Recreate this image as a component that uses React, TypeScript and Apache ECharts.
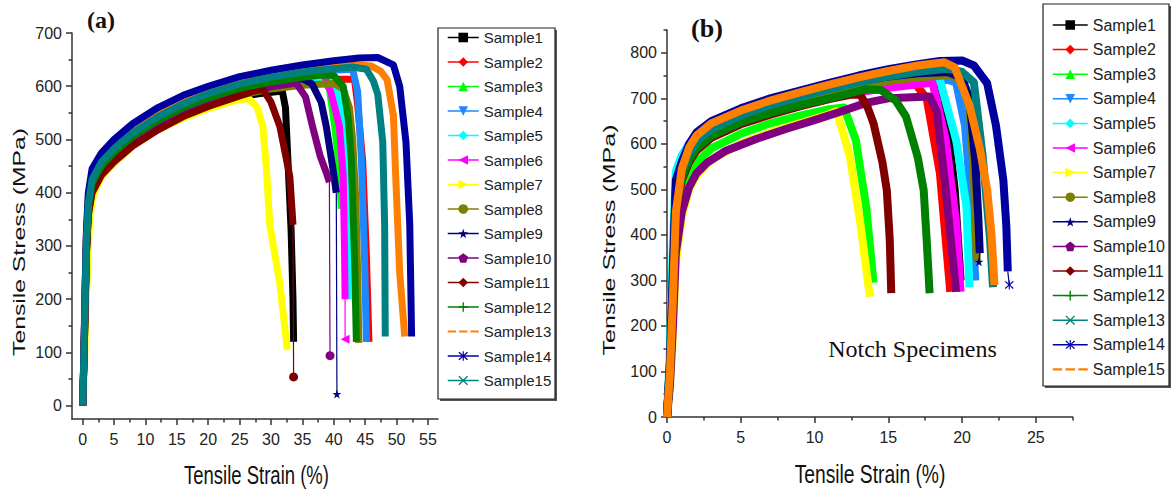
import React, { useEffect, useRef } from "react";
import * as echarts from "echarts";

type P = [number, number];

// ---------- Chart (a) data: [strain %, stress MPa] ----------
const A_S1: P[] = [[0,0],[0.2,80],[0.4,190],[0.6,290],[0.9,360],[1.5,402],[3,435],[5,460],[8,490],[12,520],[16,545],[20,563],[25,580],[28,586],[31.8,591],[32.3,560],[32.7,460],[33.2,330],[33.5,200],[33.6,120]];
const A_S2: P[] = [[0,0],[0.2,85],[0.4,195],[0.6,295],[0.9,370],[1.5,412],[3,445],[5,470],[8,500],[12,530],[16,554],[20,572],[25,590],[30,602],[35,609],[40,613],[43.3,613],[43.8,565],[44.6,460],[45.2,280],[45.6,120]];
const A_S3: P[] = [[0,0],[0.2,80],[0.4,190],[0.6,290],[0.9,365],[1.5,410],[3,443],[5,468],[8,498],[12,528],[16,552],[20,571],[25,589],[30,601],[35,610],[38,614],[39.3,595],[40.2,520],[40.8,450],[41.2,370]];
const A_S4: P[] = [[0,0],[0.2,95],[0.4,210],[0.6,310],[0.9,378],[1.5,422],[3,455],[5,480],[8,510],[12,540],[16,565],[20,584],[25,602],[30,615],[35,624],[40,630],[43,632],[43.8,590],[44.4,462],[44.9,275],[45.2,120]];
const A_S5: P[] = [[0,0],[0.2,100],[0.4,215],[0.6,310],[0.9,375],[1.5,418],[3,450],[5,475],[8,505],[12,535],[16,558],[20,577],[25,594],[30,606],[35,614],[38,618],[40,605],[41,570],[41.7,480],[42,400],[42.2,300],[42.3,200]];
const A_S6: P[] = [[0,0],[0.2,110],[0.4,230],[0.6,320],[0.9,380],[1.5,422],[3,452],[5,478],[8,508],[12,538],[16,562],[20,580],[25,598],[30,611],[35,622],[37,627],[38.5,620],[39.5,590],[40.9,525],[41.5,430],[41.7,300],[41.8,200]];
const A_S7: P[] = [[0,0],[0.3,80],[0.6,200],[0.9,300],[1.2,355],[1.5,385],[2,405],[3,430],[5,455],[8,488],[12,518],[16,540],[20,558],[24,572],[26.5,577],[27.8,560],[28.7,525],[29.3,440],[29.8,340],[31.4,230],[32.6,105]];
const A_S8: P[] = [[0,0],[0.2,75],[0.4,185],[0.6,285],[0.9,360],[1.5,405],[3,437],[5,462],[8,492],[12,522],[16,546],[20,565],[25,583],[30,595],[35,602],[40,605],[41.5,595],[42.5,560],[43,500],[43.5,390],[43.8,250],[44,118]];
const A_S9: P[] = [[0,0],[0.2,85],[0.4,195],[0.6,295],[0.9,368],[1.5,413],[3,446],[5,472],[8,502],[12,531],[16,555],[20,574],[25,592],[30,606],[35,614],[36.5,605],[38,570],[38.8,525],[39.8,450],[40.4,400]];
const A_S10: P[] = [[0,0],[0.2,80],[0.4,190],[0.6,290],[0.9,362],[1.5,407],[3,440],[5,465],[8,495],[12,525],[16,549],[20,568],[25,586],[30,599],[34,606],[35.5,580],[36.6,525],[37.8,470],[38.8,438],[39.3,420]];
const A_S11: P[] = [[0,0],[0.2,80],[0.4,185],[0.6,285],[0.9,358],[1.5,400],[3,433],[5,458],[8,488],[12,518],[16,543],[20,562],[25,582],[27,590],[28.7,594],[30,570],[31.4,525],[32.5,460],[33,430],[33.5,340]];
const A_S12: P[] = [[0,0],[0.2,90],[0.4,200],[0.6,300],[0.9,372],[1.5,418],[3,450],[5,476],[8,506],[12,536],[16,560],[20,578],[25,596],[30,608],[35,617],[38,621],[40,620],[41.5,600],[42.3,540],[42.8,460],[43.3,280],[43.6,120]];
const A_S13: P[] = [[0,0],[0.2,100],[0.4,220],[0.6,320],[0.9,390],[1.5,435],[3,467],[5,492],[8,522],[12,552],[16,576],[20,594],[25,612],[30,624],[35,633],[40,638],[44,640],[46,638],[47.5,628],[48.5,612],[49.5,545],[49.9,420],[50.5,250],[51.3,130]];
const A_S14: P[] = [[0,0],[0.2,100],[0.4,225],[0.6,330],[0.9,400],[1.5,445],[3,475],[5,500],[8,530],[12,560],[16,583],[20,600],[25,618],[30,630],[35,640],[40,648],[44,653],[47,654],[49.5,640],[50.5,600],[51.5,495],[52.1,340],[52.4,130]];
const A_S15: P[] = [[0,0],[0.2,95],[0.4,215],[0.6,315],[0.9,380],[1.5,425],[3,458],[5,483],[8,513],[12,543],[16,567],[20,586],[25,604],[30,617],[35,627],[40,633],[43,636],[45.2,632],[46.3,610],[47,585],[47.8,495],[48.1,340],[48.2,130]];
// thin fracture tails ending in a marker
const A_T6: P[] = [[41.8,200],[41.8,125]];
const A_T9: P[] = [[40.4,400],[40.5,22]];
const A_T10: P[] = [[39.3,420],[39.4,94]];
const A_T11: P[] = [[33.5,340],[33.6,54]];

// ---------- Chart (b) data ----------
const B_S1: P[] = [[0,0],[0.2,120],[0.4,330],[0.6,470],[1,540],[1.5,578],[2,602],[3,628],[5,658],[7,680],[9,697],[11,712],[13,724],[15,732],[18,739],[18.8,700],[19.5,500],[19.9,300]];
const B_S2: P[] = [[0,0],[0.2,110],[0.4,300],[0.6,470],[1,530],[1.5,570],[2,595],[3,622],[5,652],[7,673],[9,690],[11,705],[13,717],[15,727],[16.8,733],[17.6,700],[18.5,535],[19.2,275]];
const B_S3: P[] = [[0,0],[0.2,80],[0.4,230],[0.6,400],[1,480],[1.5,530],[2,558],[3,590],[5,622],[7,645],[9,662],[11,676],[12,680],[12.8,608],[13.5,462],[14,295]];
const B_S4: P[] = [[0,0],[0.2,110],[0.4,290],[0.6,470],[1,535],[1.5,575],[2,600],[3,628],[5,658],[7,680],[9,698],[11,713],[13,726],[15,734],[17,739],[19,741],[19.6,735],[20.2,640],[20.6,480],[20.9,300]];
const B_S5: P[] = [[0,0],[0.2,150],[0.4,380],[0.6,540],[1,575],[1.5,600],[2,617],[3,638],[5,662],[7,681],[9,697],[11,711],[13,722],[15,731],[17,737],[18.5,740],[19.6,608],[20.3,462],[20.5,285]];
const B_S6: P[] = [[0,0],[0.2,100],[0.4,270],[0.6,440],[1,520],[1.5,562],[2,588],[3,615],[5,645],[7,667],[9,685],[11,700],[13,713],[15,723],[17,731],[18,734],[18.9,608],[19.6,426],[19.9,275]];
const B_S7: P[] = [[0,0],[0.2,70],[0.4,180],[0.6,340],[1,440],[1.5,500],[2,530],[3,565],[5,600],[7,625],[9,645],[11,665],[11.5,672],[12.4,572],[13.1,426],[13.75,264]];
const B_S8: P[] = [[0,0],[0.2,100],[0.4,280],[0.6,460],[1,530],[1.5,572],[2,597],[3,625],[5,655],[7,677],[9,695],[11,712],[13,727],[15,738],[17,746],[19.3,751],[20,735],[20.5,680],[20.8,535],[21,340]];
const B_S9: P[] = [[0,0],[0.2,120],[0.4,320],[0.6,520],[1,560],[1.5,595],[2,615],[3,640],[5,668],[7,690],[9,708],[11,724],[13,738],[15,748],[17,755],[19,758],[20,745],[20.5,700],[20.9,560],[21.1,440],[21.2,360]];
const B_S10: P[] = [[0,0],[0.2,70],[0.4,200],[0.6,360],[1,450],[1.5,505],[2,535],[2.7,558],[4,585],[6,610],[8,632],[10,652],[11.7,670],[13.5,690],[15,700],[17.8,704],[18.3,670],[18.9,498],[19.6,275]];
const B_S11: P[] = [[0,0],[0.2,100],[0.4,270],[0.6,450],[1,520],[1.5,560],[2,585],[3,613],[5,643],[7,664],[9,682],[11,698],[12.5,708],[13.1,708],[13.6,680],[14,645],[14.6,560],[14.9,498],[15.1,389],[15.2,272]];
const B_S12: P[] = [[0,0],[0.2,100],[0.4,280],[0.6,460],[1,525],[1.5,565],[2,590],[3,617],[5,647],[7,668],[9,685],[11,700],[12.5,712],[13.5,720],[14.5,718],[15.5,695],[16.2,660],[17,570],[17.4,498],[17.6,390],[17.8,272]];
const B_S13: P[] = [[0,0],[0.2,120],[0.4,300],[0.6,480],[1,540],[1.5,580],[2,605],[3,632],[5,662],[7,685],[9,703],[11,720],[13,735],[15,748],[17,758],[19,765],[20,758],[20.8,735],[21.4,572],[21.9,390],[22.1,285]];
const B_S14: P[] = [[0,0],[0.2,110],[0.4,300],[0.6,500],[1,560],[1.5,600],[2,625],[3,650],[5,678],[7,700],[9,717],[11,734],[13,750],[15,764],[17,775],[18.5,782],[20,783],[20.8,772],[21.7,733],[22.3,640],[22.8,520],[23,420],[23.1,320]];
const B_S15: P[] = [[0,0],[0.2,100],[0.4,260],[0.6,450],[1,545],[1.5,592],[2,618],[3,645],[5,673],[7,695],[9,713],[11,730],[13,746],[15,760],[17,772],[18.8,779],[19.5,768],[20.5,685],[21.2,590],[21.7,500],[22,400],[22.2,290]];
const B_T9: P[] = [[21.2,360],[21.15,341]];
const B_T14: P[] = [[23.1,320],[23.2,290]];

// ---------- labels / ticks ----------
const NAMES = ["Sample1","Sample2","Sample3","Sample4","Sample5","Sample6","Sample7","Sample8","Sample9","Sample10","Sample11","Sample12","Sample13","Sample14","Sample15"];
const A_X_TICKS = [0,5,10,15,20,25,30,35,40,45,50,55];
const A_X_MINOR = [2.5,7.5,12.5,17.5,22.5,27.5,32.5,37.5,42.5,47.5,52.5];
const A_Y_TICKS = [0,100,200,300,400,500,600,700];
const A_Y_MINOR = [50,150,250,350,450,550,650];
const B_X_TICKS = [0,5,10,15,20,25];
const B_X_MINOR = [2.5,7.5,12.5,17.5,22.5,27.5];
const B_Y_TICKS = [0,100,200,300,400,500,600,700,800];
const B_Y_MINOR = [50,150,250,350,450,550,650,750,850];

const SYM = {
  down: "path://M0,0L10,0L5,9Z",
  left: "path://M9,0L9,10L0,5Z",
  right: "path://M0,0L9,5L0,10Z",
  star: "path://M5,0L6.2,3.6L10,3.6L6.9,5.9L8.1,9.5L5,7.3L1.9,9.5L3.1,5.9L0,3.6L3.8,3.6Z",
  pent: "path://M5,0L10,3.6L8.1,9.5L1.9,9.5L0,3.6Z",
  plus: "path://M4.3,0H5.7V4.3H10V5.7H5.7V10H4.3V5.7H0V4.3H4.3Z",
  cross: "path://M0,1L1,0L5,4L9,0L10,1L6,5L10,9L9,10L5,6L1,10L0,9L4,5Z",
  aster: "path://M0,1.5L1,0.5L5,4.3L9,0.5L10,1.5L6,5L10,8.5L9,9.5L5,5.7L1,9.5L0,8.5L4,5ZM4.4,0H5.6V10H4.4Z",
  dash: "path://M0,0H8V2H0ZM11,0H19V2H11ZM22,0H30V2H22Z",
};

const A_COLORS = ["#000000","#ff0000","#00ff00","#1e88ff","#00ffff","#ff00ff","#ffff00","#808000","#000080","#800080","#800000","#008000","#ff8000","#0000a0","#008080"];
const B_COLORS = ["#000000","#ff0000","#00ff00","#1e88ff","#00ffff","#ff00ff","#ffff00","#808000","#000080","#800080","#800000","#008000","#008080","#0000a0","#ff8000"];
const A_SYMBOLS = ["rect","diamond","triangle",SYM.down,"diamond",SYM.left,SYM.right,"circle",SYM.star,SYM.pent,"diamond",SYM.plus,"none",SYM.aster,SYM.cross];
const B_SYMBOLS = ["rect","diamond","triangle",SYM.down,"diamond",SYM.left,SYM.right,"circle",SYM.star,SYM.pent,"diamond",SYM.plus,SYM.cross,SYM.aster,"none"];

const A_DATA = [A_S1,A_S2,A_S3,A_S4,A_S5,A_S6,A_S7,A_S8,A_S9,A_S10,A_S11,A_S12,A_S13,A_S14,A_S15];
const B_DATA = [B_S1,B_S2,B_S3,B_S4,B_S5,B_S6,B_S7,B_S8,B_S9,B_S10,B_S11,B_S12,B_S13,B_S14,B_S15];
const A_TAILS = [{ i: 5, d: A_T6, s: SYM.left }, { i: 8, d: A_T9, s: SYM.star }, { i: 9, d: A_T10, s: "circle" }, { i: 10, d: A_T11, s: "circle" }];
const B_TAILS = [{ i: 8, d: B_T9, s: SYM.star }, { i: 13, d: B_T14, s: SYM.aster }];

const SANS = "'Liberation Sans',Arial,sans-serif";
const AXIS_COLOR = "#333";

interface Cfg {
  grid: { left: number; top: number; width: number; height: number };
  xr: [number, number]; yr: [number, number];
  xt: number[]; xm: number[]; yt: number[]; ym: number[];
  data: P[][]; colors: string[]; symbols: string[];
  tails: { i: number; d: P[]; s: string }[];
  dashIdx: number; lineW: number;
  legend: { left: number; top: number; fontSize: number; itemWidth: number; gap: number };
  box: { x: number; y: number; w: number; h: number };
  graphics: any[];
}

function axisPair(dir: "x" | "y", range: [number, number], major: number[], minor: number[], margin: number) {
  const common = {
    type: "value", min: range[0], max: range[1], position: dir === "x" ? "bottom" : "left",
    splitLine: { show: false },
  };
  return [
    {
      ...common,
      axisLine: { show: true, onZero: false, lineStyle: { color: AXIS_COLOR, width: 1.5 } },
      axisTick: { show: true, customValues: major, length: 6, lineStyle: { color: AXIS_COLOR, width: 1.5 } },
      axisLabel: { show: true, customValues: major, margin, fontSize: 16, fontFamily: SANS, color: "#222" },
    },
    {
      ...common,
      axisLine: { show: false, onZero: false },
      axisTick: { show: true, customValues: minor, length: 3.5, lineStyle: { color: AXIS_COLOR, width: 1.5 } },
      axisLabel: { show: false },
    },
  ];
}

function buildOption(c: Cfg) {
  const series: any[] = [];
  c.data.forEach((d, i) => {
    series.push({
      type: "line", name: NAMES[i], data: d, symbol: c.symbols[i], symbolSize: 9,
      showSymbol: false, silent: true, z: 2,
      lineStyle: { width: c.lineW, color: c.colors[i], join: "round" },
      itemStyle: { color: c.colors[i] },
    });
  });
  c.tails.forEach((t) => {
    series.push({
      type: "line", name: NAMES[t.i], symbol: "none", showSymbol: true, silent: true, z: 3,
      data: [t.d[0], { value: t.d[1], symbol: t.s, symbolSize: 9 }],
      lineStyle: { width: 1.2, color: c.colors[t.i] },
      itemStyle: { color: c.colors[t.i] },
    });
  });
  const legendData = NAMES.map((n, i) => (i === c.dashIdx ? { name: n, icon: SYM.dash } : { name: n }));
  return {
    animation: false,
    grid: { ...c.grid, containLabel: false },
    xAxis: axisPair("x", c.xr, c.xt, c.xm, 12),
    yAxis: axisPair("y", c.yr, c.yt, c.ym, 10),
    legend: {
      orient: "vertical", left: c.legend.left, top: c.legend.top, padding: 0,
      itemWidth: c.legend.itemWidth, itemHeight: 12, itemGap: c.legend.gap, selectedMode: false,
      textStyle: { fontSize: c.legend.fontSize, fontFamily: SANS, color: "#222" },
      lineStyle: { width: 1.5 },
      data: legendData,
    },
    graphic: [
      { type: "rect", z: 0, silent: true, shape: { x: c.box.x + 2, y: c.box.y + 2, width: c.box.w, height: c.box.h }, style: { fill: "#555" } },
      { type: "rect", z: 1, silent: true, shape: { x: c.box.x, y: c.box.y, width: c.box.w, height: c.box.h }, style: { fill: "#fff", stroke: "#222", lineWidth: 1.2 } },
      ...c.graphics,
    ],
    series,
  };
}

function txt(x: number, y: number, text: string, font: string, extra: any = {}) {
  return {
    type: "text", x, y, silent: true, z: 5, ...extra,
    style: { text, font, fill: "#111", textAlign: "center", textVerticalAlign: "middle", align: "center", verticalAlign: "middle" },
  };
}

const optionA = buildOption({
  grid: { left: 72, top: 33, width: 366, height: 386 },
  xr: [-1.7, 56.6], yr: [-25, 700],
  xt: A_X_TICKS, xm: A_X_MINOR, yt: A_Y_TICKS, ym: A_Y_MINOR,
  data: A_DATA, colors: A_COLORS, symbols: A_SYMBOLS, tails: A_TAILS, dashIdx: 12, lineW: 7,
  legend: { left: 447, top: 30, fontSize: 15, itemWidth: 31, gap: 9.5 },
  box: { x: 438, y: 28, w: 117, h: 371 },
  graphics: [
    txt(101, 20, "(a)", "bold 24px 'Liberation Serif'"),
    txt(256.5, 475, "Tensile Strain (%)", "25px 'Liberation Sans'", { scaleX: 0.74 }),
    txt(19.5, 242, "Tensile Stress (MPa)", "24px 'Liberation Sans'", { rotation: Math.PI / 2, scaleX: 1.03, scaleY: 0.72 }),
  ],
});

const optionB = buildOption({
  grid: { left: 82, top: 30, width: 405.7, height: 387 },
  xr: [0, 27.5], yr: [0, 850],
  xt: B_X_TICKS, xm: B_X_MINOR, yt: B_Y_TICKS, ym: B_Y_MINOR,
  data: B_DATA, colors: B_COLORS, symbols: B_SYMBOLS, tails: B_TAILS, dashIdx: 14, lineW: 8,
  legend: { left: 467, top: 17, fontSize: 16, itemWidth: 35, gap: 8.6 },
  box: { x: 458, y: 4, w: 126, h: 382 },
  graphics: [
    txt(122, 28, "(b)", "bold 26px 'Liberation Serif'"),
    txt(327.5, 349, "Notch Specimens", "24px 'Liberation Serif'"),
    txt(285, 475, "Tensile Strain (%)", "25px 'Liberation Sans'", { scaleX: 0.77 }),
    txt(24.5, 240, "Tensile Stress (MPa)", "24px 'Liberation Sans'", { rotation: Math.PI / 2, scaleX: 1.045, scaleY: 0.72 }),
  ],
});

function Chart({ option, style }: { option: any; style: React.CSSProperties }) {
  const ref = useRef<HTMLDivElement>(null);
  useEffect(() => {
    const chart = echarts.init(ref.current as HTMLDivElement, null, { renderer: "svg" });
    chart.setOption(option);
    return () => chart.dispose();
  }, [option]);
  return <div ref={ref} style={style} />;
}

export default function App() {
  return (
    <div style={{ position: "absolute", left: 0, top: 0, width: 1171, height: 494, background: "#fff" }}>
      <Chart option={optionA} style={{ position: "absolute", left: 0, top: 0, width: 585, height: 494 }} />
      <Chart option={optionB} style={{ position: "absolute", left: 585, top: 0, width: 586, height: 494 }} />
    </div>
  );
}
